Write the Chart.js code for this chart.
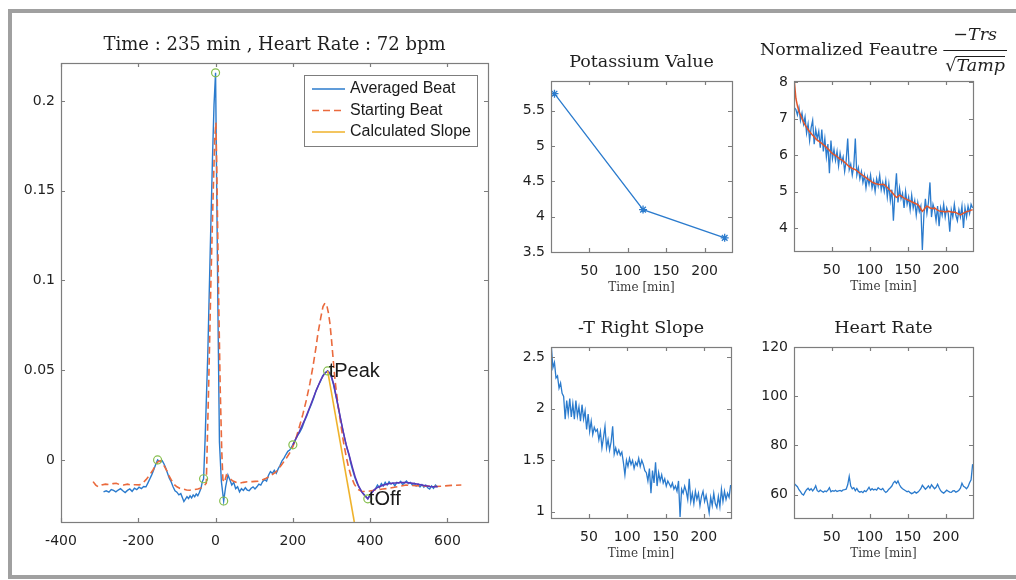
<!DOCTYPE html>
<html>
<head>
<meta charset="utf-8">
<title>Averaged beat and trend features</title>
<script src="https://cdn.jsdelivr.net/npm/chart.js@4.4.1/dist/chart.umd.min.js"></script>
<style>
  html, body { margin: 0; padding: 0; background: #fff; }
  body { width: 1016px; height: 580px; position: relative; overflow: hidden; }
  #frame { position: absolute; left: 8px; top: 9px; width: 1100px; height: 570px;
           box-sizing: border-box; border: 4px solid #a0a0a0; }
  canvas { position: absolute; }
</style>
</head>
<body>
<div id="frame"></div>
<canvas id="beat" width="500" height="580" style="left:0;top:0;width:500px;height:580px"></canvas>
<canvas id="potassium" width="250" height="300" style="left:500px;top:0;width:250px;height:300px"></canvas>
<canvas id="feature" width="266" height="300" style="left:750px;top:0;width:266px;height:300px"></canvas>
<canvas id="slope" width="250" height="280" style="left:500px;top:300px;width:250px;height:280px"></canvas>
<canvas id="hr" width="266" height="280" style="left:750px;top:300px;width:266px;height:280px"></canvas>
<script>
// ---- main panel: averaged vs starting beat (time in ms) ----
const AVG_T = [
  -290, -283, -276, -270, -264, -258, -252, -246, -240, -234, -228, -222, -216, -210, -204, -198, -192, -186, -180,
  -175, -170, -165, -160, -155, -150, -146, -142, -138, -134, -130, -125, -120, -115, -110, -105, -100,
  -95, -90, -86, -82, -78, -74, -70, -66, -62, -58, -54, -50, -46, -42, -38, -34, -31,
  -27, -20, -14, -8, -4, 0, 3, 6, 10, 15, 21,
  26, 32, 37, 42, 47, 52, 57, 62, 67, 72, 77, 82, 87, 92, 97, 102, 107, 112, 117, 122, 127, 132, 137, 142, 147,
  152, 157, 162, 167, 172, 177, 182, 187, 192, 196,
  200, 206, 212, 218, 224, 230, 236, 242, 248, 254, 260, 266, 272, 277, 282, 286, 290, 295, 300, 305,
  310, 315, 320, 325, 330, 335, 340, 345, 350, 355, 360, 366, 372, 378, 384, 390, 394,
  399, 404, 409, 414, 419, 424, 429, 434, 439, 444, 449, 454, 459, 464, 469, 474, 479, 484, 489, 494,
  499, 504, 509, 514, 519, 524, 529, 534, 539, 544, 549, 554, 559, 564, 569, 574
];
const AVG_V = [
  -0.0178, -0.0172, -0.0180, -0.0165, -0.0170, -0.0178, -0.0168, -0.0160, -0.0172, -0.0182, -0.0170, -0.0162, -0.0175, -0.0158, -0.0166, -0.0152, -0.0160, -0.0148, -0.0150,
  -0.0128, -0.0105, -0.0082, -0.0055, -0.0025, 0.0000, -0.0008, -0.0010, -0.0005, -0.0020, -0.0040, -0.0070, -0.0100, -0.0122, -0.0150, -0.0172, -0.0180,
  -0.0195, -0.0188, -0.0210, -0.0232, -0.0218, -0.0205, -0.0215, -0.0200, -0.0212, -0.0195, -0.0205, -0.0190, -0.0200, -0.0182, -0.0160, -0.0120, -0.0105,
  0.0120, 0.060, 0.115, 0.168, 0.198, 0.2157, 0.150, 0.085, 0.010, -0.012, -0.0229,
  -0.0150, -0.0084, -0.0110, -0.0140, -0.0125, -0.0160, -0.0150, -0.0178, -0.0160, -0.0170, -0.0155, -0.0168, -0.0172, -0.0158, -0.0150, -0.0162, -0.0150, -0.0135, -0.0140, -0.0120, -0.0110, -0.0118, -0.0085, -0.0065, -0.0075,
  -0.0058, -0.0075, -0.0050, -0.0030, -0.0005, 0.0010, 0.0030, 0.0048, 0.0055, 0.0070,
  0.0084, 0.0110, 0.0135, 0.0155, 0.0180, 0.0215, 0.0245, 0.0280, 0.0310, 0.0345, 0.0385, 0.0415, 0.0440, 0.0468, 0.0480, 0.0490, 0.0496, 0.0485, 0.0460, 0.0420,
  0.0370, 0.0320, 0.0265, 0.0210, 0.0160, 0.0110, 0.0065, 0.0030, -0.0020, -0.0060, -0.0095, -0.0130, -0.0155, -0.0175, -0.0192, -0.0205, -0.0217,
  -0.0195, -0.0180, -0.0170, -0.0160, -0.0140, -0.0155, -0.0132, -0.0145, -0.0125, -0.0140, -0.0122, -0.0135, -0.0128, -0.0145, -0.0125, -0.0130, -0.0120, -0.0138, -0.0128, -0.0118,
  -0.0132, -0.0125, -0.0140, -0.0130, -0.0145, -0.0135, -0.0150, -0.0138, -0.0152, -0.0140, -0.0155, -0.0162, -0.0145, -0.0158, -0.0140, -0.0150
];
const START_T = [
  -317, -310, -304, -295, -285, -275, -265, -257, -248, -238,
  -228, -218, -208, -197, -188, -180, -171, -162, -155, -149,
  -143, -137, -132, -125, -120, -115, -108, -100, -93, -85,
  -75, -67, -57, -46, -38, -33, -28, -24, -18, -12,
  -6, -2, 1, 4, 8, 12, 16, 19, 23, 28,
  35, 45, 55, 62, 72, 82, 95, 110, 120, 131,
  145, 157, 170, 183, 192, 200, 208, 217, 226, 235,
  244, 252, 259, 265, 272, 278, 283, 288, 292, 296,
  300, 304, 308, 312, 318, 325, 331, 338, 344, 351,
  359, 368, 378, 390, 403, 416, 433, 450, 470, 493,
  520, 545, 568, 588, 610, 636
];
const START_V = [
  -0.0121, -0.0140, -0.0149, -0.0140, -0.0135, -0.0138, -0.0132, -0.0130, -0.0138, -0.0140,
  -0.0135, -0.0140, -0.0138, -0.0139, -0.0128, -0.0110, -0.0085, -0.0056, -0.0030, -0.0010,
  -0.0005, -0.0020, -0.0037, -0.0065, -0.0090, -0.0110, -0.0135, -0.0150, -0.0158, -0.0162,
  -0.0168, -0.0169, -0.0166, -0.0162, -0.0156, -0.0149, -0.0140, -0.0130, 0.040, 0.100,
  0.150, 0.180, 0.188, 0.150, 0.090, 0.040, 0.005, -0.011, -0.0125, -0.0084,
  -0.0100, -0.0118, -0.0126, -0.0130, -0.0125, -0.0122, -0.0121, -0.0118, -0.0112, -0.0102,
  -0.0085, -0.0065, -0.0030, 0.0009, 0.0040, 0.0074, 0.0120, 0.0186, 0.0255, 0.0334,
  0.0425, 0.0520, 0.0615, 0.0706, 0.0790, 0.0855, 0.0874, 0.0860, 0.0820, 0.0760,
  0.0670, 0.0570, 0.0470, 0.0390, 0.0290, 0.0186, 0.0100, 0.0019, -0.0040, -0.0093,
  -0.0135, -0.0164, -0.0175, -0.0177, -0.0172, -0.0167, -0.0162, -0.0158, -0.0150, -0.0140,
  -0.0144, -0.0146, -0.0148, -0.0146, -0.0142, -0.0140
];
// smoothed T-wave trace
const FIT_T = [200, 215, 230, 245, 260, 272, 282, 290, 298, 306, 314, 322, 330, 338, 346, 354, 362, 370,
  378, 386, 394, 402, 410, 420, 435, 450, 465, 480, 495, 510, 525, 540, 555, 570, 575];
const FIT_V = [0.0084, 0.0150, 0.0220, 0.0300, 0.0385, 0.0445, 0.0482, 0.0496, 0.0478, 0.0420, 0.0335, 0.0245,
  0.0160, 0.0085, 0.0025, -0.0040, -0.0100, -0.0145, -0.0178, -0.0200, -0.0217, -0.0190, -0.0168, -0.0152,
  -0.0140, -0.0132, -0.0128, -0.0126, -0.0126, -0.0130, -0.0136, -0.0142, -0.0148, -0.0150, -0.0150];
const SLOPE_LINE_T = [290, 359];
const SLOPE_LINE_V = [0.0496, -0.0346];
const KEY_T = [-150, -31, 0, 21, 200, 290, 394];
const KEY_V = [0.0000, -0.0105, 0.2157, -0.0229, 0.0084, 0.0496, -0.0217];
const NOTE_T = [290, 394];
const NOTE_V = [0.0496, -0.0217];
const NOTE_TEXT = ['tPeak', 'tOff'];
const LEGEND_LABELS = ['Averaged Beat', 'Starting Beat', 'Calculated Slope'];

// ---- trend panels (one sample every 2 min) ----
const TIME_MIN = Array.from({ length: 118 }, (_, i) => 1 + 2 * i);
const K_TIME = [5, 120, 226];
const K_VALUE = [5.74, 4.10, 3.70];
const FEATURE_RAW = [
  7.30, 7.25, 7.10, 7.30, 6.95, 7.15, 6.85, 7.05, 6.60, 6.85,
  6.40, 6.75, 6.95, 6.30, 6.70, 6.45, 6.65, 6.20, 6.70, 6.10,
  6.45, 5.95, 6.30, 5.50, 6.40, 5.90, 6.15, 5.85, 6.10, 5.70,
  6.05, 5.80, 5.95, 5.55, 5.85, 6.45, 5.60, 5.75, 5.45, 5.70,
  6.45, 5.45, 5.65, 5.35, 5.55, 5.25, 5.45, 5.10, 5.40, 5.20,
  5.45, 5.10, 5.30, 5.00, 5.35, 5.15, 5.45, 5.05, 5.25, 5.00,
  5.30, 4.85, 5.20, 4.75, 5.05, 4.20, 4.95, 5.50, 4.70, 5.10,
  4.80, 4.95, 4.55, 5.00, 4.65, 4.85, 4.50, 4.90, 4.55, 4.75,
  4.35, 4.70, 4.45, 4.60, 3.40, 4.35, 4.80, 4.40, 4.70, 5.25,
  4.30, 4.65, 4.50, 4.20, 4.60, 4.05, 4.55, 4.35, 4.65, 4.30,
  4.55, 4.40, 3.90, 4.50, 4.30, 4.65, 4.35, 4.20, 4.50, 4.30,
  4.60, 4.00, 4.55, 4.30, 4.60, 4.40, 4.65, 4.55
];
const FEATURE_SMOOTH = [
  8.00, 7.55, 7.35, 7.20, 7.10, 7.00, 6.90, 6.83, 6.76, 6.70,
  6.64, 6.59, 6.54, 6.50, 6.45, 6.41, 6.38, 6.35, 6.32, 6.28,
  6.25, 6.21, 6.17, 6.13, 6.08, 6.04, 6.01, 5.99, 5.96, 5.92,
  5.89, 5.87, 5.84, 5.80, 5.77, 5.72, 5.68, 5.66, 5.63, 5.62,
  5.60, 5.57, 5.54, 5.50, 5.47, 5.44, 5.41, 5.38, 5.35, 5.32,
  5.29, 5.26, 5.24, 5.22, 5.21, 5.20, 5.19, 5.19, 5.20, 5.19,
  5.15, 5.11, 5.07, 5.03, 4.98, 4.93, 4.88, 4.84, 4.86, 4.90,
  4.88, 4.85, 4.82, 4.80, 4.78, 4.76, 4.74, 4.72, 4.70, 4.68,
  4.66, 4.64, 4.60, 4.52, 4.46, 4.50, 4.56, 4.60, 4.58, 4.55,
  4.54, 4.53, 4.55, 4.52, 4.49, 4.47, 4.46, 4.45, 4.45, 4.44,
  4.45, 4.46, 4.45, 4.44, 4.43, 4.44, 4.42, 4.40, 4.38, 4.36,
  4.38, 4.41, 4.43, 4.45, 4.46, 4.47, 4.49, 4.50
];
const RIGHT_SLOPE = [
  2.60, 2.40, 2.45, 2.30, 2.32, 2.20, 2.25, 2.15, 2.12, 1.90,
  2.08, 1.95, 2.10, 1.92, 2.05, 1.90, 2.08, 1.93, 2.02, 1.88,
  2.04, 1.90, 1.98, 1.80, 1.95, 1.78, 1.88, 1.75, 1.82, 1.78,
  1.80, 1.70, 1.78, 1.62, 1.72, 1.83, 1.62, 1.70, 1.60, 1.68,
  1.83, 1.56, 1.62, 1.56, 1.60, 1.55, 1.58, 1.48, 1.36, 1.50,
  1.44, 1.52, 1.46, 1.50, 1.42, 1.48, 1.45, 1.52, 1.44, 1.50,
  1.46, 1.40, 1.38, 1.30, 1.42, 1.18, 1.40, 1.28, 1.48, 1.25,
  1.38, 1.30, 1.36, 1.28, 1.32, 1.25, 1.30, 1.27, 1.24, 1.28,
  1.22, 1.25, 1.20, 1.30, 0.95, 1.22, 1.18, 1.25, 1.20, 1.12,
  1.32, 1.10, 1.18, 1.08, 1.20, 1.12, 1.18, 1.06, 1.15, 1.20,
  1.10, 1.16, 1.08, 0.99, 1.14, 1.06, 1.18, 1.08, 1.04, 1.15,
  1.05, 1.22, 1.10, 1.20, 1.12, 1.18, 1.14, 1.26
];
const HEART_RATE = [
  64.4, 63.8, 63.2, 62.0, 61.2, 60.2, 59.8, 61.0, 62.0, 62.6,
  61.8, 62.4, 61.5, 62.3, 63.6, 61.6, 61.2, 61.8, 61.4, 61.0,
  61.5, 61.2, 61.8, 62.8, 61.2, 61.6, 61.4, 61.8, 61.3, 61.5,
  61.7, 61.4, 61.9, 62.0, 62.2, 64.0, 67.4, 63.5, 62.4, 62.8,
  61.6, 62.5, 61.4, 61.0, 61.3, 60.8, 61.6, 61.2, 62.0, 63.0,
  61.8, 62.4, 61.9, 62.2, 61.8, 62.8, 62.3, 62.0, 62.5, 61.5,
  60.9, 61.4, 62.2, 62.8, 63.5, 64.8, 65.4, 64.6, 65.6, 64.0,
  63.0, 62.4, 62.0, 61.6, 61.2, 61.4, 60.8, 60.4, 60.7, 61.2,
  60.6, 61.0, 61.6, 62.4, 63.8, 63.0, 62.2, 62.8, 63.6, 62.6,
  64.0, 63.2, 62.4, 63.0, 64.2, 62.8, 61.6, 61.0, 60.6, 61.2,
  61.8, 61.4, 61.0, 60.9, 61.5, 61.6, 61.0, 61.3, 61.8, 62.6,
  64.6, 63.4, 63.0, 62.4, 63.2, 64.8, 66.0, 72.4
];

const BLUE = '#2b7bcd';
const ORANGE = '#ea6a3d';
const PURPLE = '#5b36b8';
const YELLOW = '#efb22b';
const GREEN = '#86bf4e';
const RED = '#e4552a';
const TEXT = '#1f1f1f';
const AXIS = '#7d7d7d';
const TICK_FONT = { family: 'DejaVu Sans', size: 14 };

const toXY = (xs, ys) => xs.map((x, i) => ({ x, y: ys[i] }));
const num = v => String(+v.toFixed(3));

// box round the axes with MATLAB-style inward ticks on all four sides
const axesBox = {
  id: 'axesBox',
  afterDraw(chart) {
    const { ctx, chartArea: a, scales: { x, y } } = chart;
    ctx.save();
    ctx.strokeStyle = AXIS;
    ctx.lineWidth = 1.2;
    ctx.strokeRect(a.left + 0.5, a.top + 0.5, a.right - a.left, a.bottom - a.top);
    ctx.beginPath();
    x.ticks.forEach(t => {
      const p = Math.round(x.getPixelForValue(t.value)) + 0.5;
      ctx.moveTo(p, a.bottom); ctx.lineTo(p, a.bottom - 4);
      ctx.moveTo(p, a.top); ctx.lineTo(p, a.top + 4);
    });
    y.ticks.forEach(t => {
      const p = Math.round(y.getPixelForValue(t.value)) + 0.5;
      ctx.moveTo(a.left, p); ctx.lineTo(a.left + 4, p);
      ctx.moveTo(a.right, p); ctx.lineTo(a.right - 4, p);
    });
    ctx.stroke();
    ctx.restore();
  }
};

const panelText = {
  id: 'panelText',
  afterDraw(chart, args, o) {
    const { ctx, chartArea: a } = chart;
    const cx = (a.left + a.right) / 2;
    ctx.save();
    ctx.textAlign = 'center';
    ctx.textBaseline = 'middle';
    if (o.title) {
      ctx.fillStyle = TEXT;
      ctx.font = (o.titleSize || 17.5) + 'px "DejaVu Serif"';
      ctx.fillText(o.title, cx, a.top - (o.titleGap || 19));
    }
    if (o.xlabel) {
      ctx.fillStyle = '#3c3c3c';
      ctx.font = '12px "DejaVu Serif"';
      ctx.fillText(o.xlabel, cx, a.bottom + 36);
    }
    ctx.restore();
  }
};

const beatLegend = {
  id: 'beatLegend',
  afterDraw(chart, args, o) {
    const { ctx } = chart;
    ctx.save();
    ctx.fillStyle = '#fff';
    ctx.fillRect(o.left, o.top, o.width, o.height);
    ctx.strokeStyle = AXIS;
    ctx.lineWidth = 1;
    ctx.strokeRect(o.left + 0.5, o.top + 0.5, o.width, o.height);
    ctx.font = '16px "Liberation Sans"';
    ctx.textBaseline = 'middle';
    LEGEND_LABELS.forEach((label, i) => {
      const ds = chart.data.datasets.find(d => d.label === label);
      const yy = o.top + 14 + i * 21.5;
      ctx.strokeStyle = ds.borderColor;
      ctx.lineWidth = ds.borderWidth;
      ctx.setLineDash(ds.borderDash || []);
      ctx.beginPath();
      ctx.moveTo(o.left + 8, yy);
      ctx.lineTo(o.left + 41, yy);
      ctx.stroke();
      ctx.setLineDash([]);
      ctx.fillStyle = '#1a1a1a';
      ctx.fillText(label, o.left + 46, yy);
    });
    ctx.restore();
  }
};

const beatNotes = {
  id: 'beatNotes',
  afterDraw(chart) {
    const { ctx, scales: { x, y } } = chart;
    ctx.save();
    ctx.font = '20px "Liberation Sans"';
    ctx.fillStyle = '#1a1a1a';
    ctx.textAlign = 'left';
    ctx.textBaseline = 'middle';
    NOTE_TEXT.forEach((t, i) => {
      ctx.fillText(t, x.getPixelForValue(NOTE_T[i]) + 1, y.getPixelForValue(NOTE_V[i]) + 1);
    });
    ctx.restore();
  }
};

// "Normalized Feautre  -Trs / sqrt(Tamp)" title
const featureTitle = {
  id: 'featureTitle',
  afterDraw(chart) {
    const { ctx, chartArea: a } = chart;
    const lead = 'Normalized Feautre ';
    const numer = '\u2212Trs';
    const denom = 'Tamp';
    const f = 17.5;
    ctx.save();
    ctx.fillStyle = TEXT;
    ctx.textBaseline = 'middle';
    ctx.textAlign = 'left';
    ctx.font = f + 'px "DejaVu Serif"';
    const wLead = ctx.measureText(lead).width;
    const wRoot = ctx.measureText('\u221A').width;
    ctx.font = 'italic ' + f + 'px "DejaVu Serif"';
    const wNum = ctx.measureText(numer).width;
    const wDen = ctx.measureText(denom).width;
    const wFrac = Math.max(wNum, wRoot + wDen) + 4;
    const x0 = (a.left + a.right) / 2 - (wLead + wFrac) / 2;
    const barY = a.top - 31;
    ctx.font = f + 'px "DejaVu Serif"';
    ctx.fillText(lead, x0, barY);
    const fx = x0 + wLead;
    ctx.font = 'italic ' + f + 'px "DejaVu Serif"';
    ctx.fillText(numer, fx + (wFrac - wNum) / 2, barY - 15);
    ctx.font = f + 'px "DejaVu Serif"';
    ctx.fillText('\u221A', fx + 2, barY + 16);
    ctx.font = 'italic ' + f + 'px "DejaVu Serif"';
    ctx.fillText(denom, fx + 2 + wRoot, barY + 16);
    ctx.strokeStyle = TEXT;
    ctx.lineWidth = 1;
    ctx.beginPath();
    ctx.moveTo(fx, barY + 0.5); ctx.lineTo(fx + wFrac, barY + 0.5);
    ctx.moveTo(fx + 2 + wRoot - 1, barY + 6.5); ctx.lineTo(fx + 2 + wRoot + wDen, barY + 6.5);
    ctx.stroke();
    ctx.restore();
  }
};

function scale(min, max, step, fit, pad, fmt) {
  return {
    type: 'linear', min, max,
    grid: { display: false, drawTicks: false },
    border: { display: false },
    ticks: { stepSize: step, includeBounds: false, autoSkip: false, maxRotation: 0,
             padding: pad, color: TEXT, font: TICK_FONT, callback: fmt },
    afterFit: fit
  };
}

// area = plot box inside the canvas, w/h = canvas size
function panel(id, area, w, h, datasets, xr, yr, plugins, pluginOpts) {
  return new Chart(document.getElementById(id), {
    type: 'line',
    data: { datasets },
    options: {
      responsive: false,
      animation: false,
      devicePixelRatio: 1,
      layout: { autoPadding: false, padding: { left: 0, top: area.top, right: w - area.right, bottom: 0 } },
      elements: { point: { radius: 0 }, line: { tension: 0 } },
      plugins: Object.assign({ legend: { display: false }, tooltip: { enabled: false } }, pluginOpts),
      scales: {
        x: scale(xr[0], xr[1], xr[2], s => { s.height = h - area.bottom; }, 11, xr[3]),
        y: scale(yr[0], yr[1], yr[2], s => { s.width = area.left; }, 6, yr[3])
      }
    },
    plugins: [axesBox].concat(plugins)
  });
}

const trendX = [0.5, 235.5, 50, v => String(v)];

panel('beat', { left: 61, top: 63, right: 488, bottom: 522 }, 500, 580, [
  { label: 'Fiducial points', data: toXY(KEY_T, KEY_V), showLine: false, pointRadius: 4,
    pointBorderColor: GREEN, pointBackgroundColor: 'rgba(0,0,0,0)', pointBorderWidth: 1.2, order: 0 },
  { label: 'Calculated Slope', data: toXY(SLOPE_LINE_T, SLOPE_LINE_V), borderColor: YELLOW, borderWidth: 1.6, order: 1 },
  { label: 'T-wave fit', data: toXY(FIT_T, FIT_V), borderColor: PURPLE, borderWidth: 1.5, order: 2 },
  { label: 'Starting Beat', data: toXY(START_T, START_V), borderColor: ORANGE, borderWidth: 1.6,
    borderDash: [7, 4], order: 3 },
  { label: 'Averaged Beat', data: toXY(AVG_T, AVG_V), borderColor: BLUE, borderWidth: 1.4, order: 4 }
], [-400, 705, 200, v => String(v)], [-0.0346, 0.2212, 0.05, num],
  [panelText, beatLegend, beatNotes],
  { panelText: { title: 'Time : 235 min , Heart Rate : 72 bpm', titleSize: 18, titleGap: 18 },
    beatLegend: { left: 304, top: 75, width: 173, height: 71 } });

panel('potassium', { left: 51, top: 81, right: 232, bottom: 252 }, 250, 300, [
  { label: 'Potassium', data: toXY(K_TIME, K_VALUE), borderColor: BLUE, borderWidth: 1.3,
    pointStyle: 'star', pointRadius: 4, pointBorderColor: BLUE, pointBorderWidth: 1.3 }
], trendX, [3.5, 5.92, 0.5, num], [panelText],
  { panelText: { title: 'Potassium Value', xlabel: 'Time [min]' } });

panel('feature', { left: 44, top: 81, right: 223, bottom: 251 }, 266, 300, [
  { label: 'Smoothed', data: toXY(TIME_MIN, FEATURE_SMOOTH), borderColor: RED, borderWidth: 1.5, order: 0 },
  { label: 'Feature', data: toXY(TIME_MIN, FEATURE_RAW), borderColor: BLUE, borderWidth: 1.3, order: 1 }
], trendX, [3.37, 8.03, 1, num], [panelText, featureTitle],
  { panelText: { xlabel: 'Time [min]' } });

panel('slope', { left: 51, top: 47, right: 231, bottom: 218 }, 250, 280, [
  { label: '-T Right Slope', data: toXY(TIME_MIN, RIGHT_SLOPE), borderColor: BLUE, borderWidth: 1.3 }
], trendX, [0.94, 2.6, 0.5, num], [panelText],
  { panelText: { title: '-T Right Slope', xlabel: 'Time [min]' } });

panel('hr', { left: 44, top: 47, right: 223, bottom: 218 }, 266, 280, [
  { label: 'Heart Rate', data: toXY(TIME_MIN, HEART_RATE), borderColor: BLUE, borderWidth: 1.3 }
], trendX, [50.5, 120, 20, num], [panelText],
  { panelText: { title: 'Heart Rate', xlabel: 'Time [min]' } });
</script>
</body>
</html>
